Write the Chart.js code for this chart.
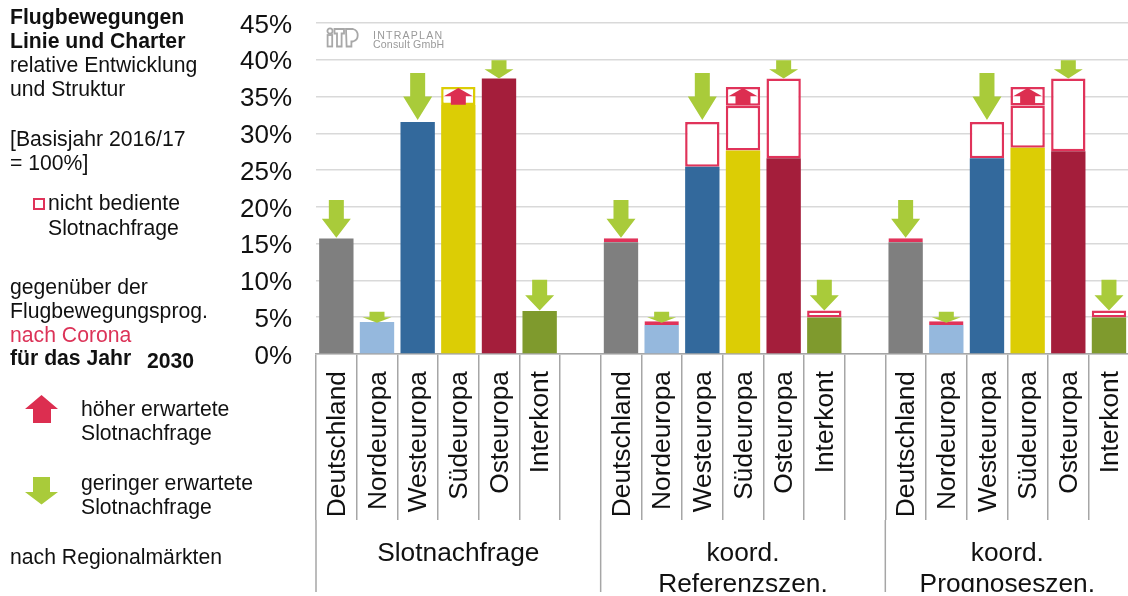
<!DOCTYPE html>
<html lang="de">
<head>
<meta charset="utf-8">
<title>Flugbewegungen nach Regionalmärkten</title>
<script src="https://cdn.jsdelivr.net/npm/chart.js@4"></script>
<style>
  html, body { margin: 0; background: #fff; overflow: hidden; }
  #wrap { position: relative; width: 1128px; height: 592px; overflow: hidden; font-family: "Liberation Sans", Arial, sans-serif; color: #111; }
  canvas { position: absolute; left: 0; top: 0; }
  .t { position: absolute; font-size: 21.2px; line-height: 24px; white-space: nowrap; }
  .b { font-weight: bold; }
  .red { color: #dc3358; }
  .box { position: absolute; left: 33px; top: 198px; width: 8px; height: 8px; border: 2px solid #e0335a; }
  svg { position: absolute; }
  .logo { position: absolute; left: 373px; color: #9a9a9a; font-size: 10.6px; line-height: 10px; white-space: nowrap; }
</style>
</head>
<body>
<div id="wrap">
  <canvas id="chart" width="1136" height="592"></canvas>

  <div class="t b" style="left:10px;top:5px">Flugbewegungen</div>
  <div class="t b" style="left:10px;top:29px">Linie und Charter</div>
  <div class="t" style="left:10px;top:53px">relative Entwicklung</div>
  <div class="t" style="left:10px;top:77px">und Struktur</div>
  <div class="t" style="left:10px;top:127px">[Basisjahr 2016/17</div>
  <div class="t" style="left:10px;top:151px">= 100%]</div>

  <div class="box"></div>
  <div class="t" style="left:48px;top:191px">nicht bediente</div>
  <div class="t" style="left:48px;top:216px">Slotnachfrage</div>

  <div class="t" style="left:10px;top:275px">gegenüber der</div>
  <div class="t" style="left:10px;top:299px">Flugbewegungsprog.</div>
  <div class="t red" style="left:10px;top:323px">nach Corona</div>
  <div class="t b" style="left:10px;top:346px">für das Jahr</div>
  <div class="t b" style="left:147px;top:349px">2030</div>

  <svg style="left:24px;top:394px" width="38" height="30"><path d="M1 15 L17.5 1 L34 15 L27 15 L27 29 L9 29 L9 15 Z" fill="#dc2e50"/></svg>
  <div class="t" style="left:81px;top:397px">höher erwartete</div>
  <div class="t" style="left:81px;top:421px">Slotnachfrage</div>

  <svg style="left:24px;top:476px" width="38" height="30"><path d="M9 1 L26 1 L26 16 L34 16 L17.5 28.5 L1 16 L9 16 Z" fill="#a9cb3a"/></svg>
  <div class="t" style="left:81px;top:471px">geringer erwartete</div>
  <div class="t" style="left:81px;top:495px">Slotnachfrage</div>

  <div class="t" style="left:10px;top:545px">nach Regionalmärkten</div>

  <svg style="left:326px;top:27px" width="36" height="21" fill="none" stroke="#a8a8a8" stroke-width="1.8">
    <circle cx="4" cy="4" r="2.6"/>
    <rect x="1.6" y="8" width="4.6" height="11.5"/>
    <path d="M8.5 2 H18 V6.5 H15.6 V19.5 H11 V6.5 H8.5 Z"/>
    <path d="M20 2 H27 A6.5 6.5 0 0 1 27 14.5 H25.4 V19.5 H20.6 Z"/>
  </svg>
  <div class="logo" style="top:30px;letter-spacing:1.2px">INTRAPLAN</div>
  <div class="logo" style="top:38.5px;letter-spacing:0.15px">Consult GmbH</div>
</div>

<script>
const regions = ['Deutschland', 'Nordeuropa', 'Westeuropa', 'Südeuropa', 'Osteuropa', 'Interkont'];
const categories = [...regions, '', ...regions, '', ...regions];
const tickLabels = [0, 5, 10, 15, 20, 25, 30, 35, 40, 45];

const groupLabels = [['Slotnachfrage'], ['koord.', 'Referenzszen.'], ['koord.', 'Prognoseszen.']];
const groupStarts = [0, 7, 14];
const groupSizes = [7, 7, 6];

// served share, in percent
const served = [
  15.7, 4.35, 31.55, 33.85, 37.45, 5.85, null,
  15.2, 3.95, 25.45, 27.65, 26.6, 4.95, null,
  15.2, 3.95, 26.6, 28.05, 27.55, 4.95
];
// not served demand on top of it
const notServed = [
  null, null, null, null, null, null, null,
  0.55, 0.5, 6.1, 6.1, 10.85, 0.95, null,
  0.55, 0.5, 4.95, 5.75, 9.9, 0.95
];
// additional expected demand (Südeuropa only)
const extraDemand = [
  null, null, null, 2.45, null, null, null,
  null, null, null, 2.55, null, null, null,
  null, null, null, 2.5, null, null
];

// arrows: start and tip in percent, pointing up where tip > start
const arrowStart = [
  20.95, 5.75, 38.2, 33.9, 39.95, 10.1, null,
  20.95, 5.75, 38.2, 33.9, 39.95, 10.1, null,
  20.95, 5.75, 38.2, 33.9, 39.95, 10.1
];
const arrowTip = [
  15.8, 4.25, 31.8, 36.15, 37.45, 5.9, null,
  15.8, 4.25, 31.8, 36.15, 37.45, 5.9, null,
  15.8, 4.25, 31.8, 36.15, 37.45, 5.9
];

const regionColors = ['#7f7f7f', '#95b8dd', '#33699c', '#dccd05', '#a41e3b', '#7f9a2d', '#fff'];
const red = '#e0335a';
const fontFamily = '"Liberation Sans", Arial, sans-serif';

const arrowsPlugin = {
  id: 'arrows',
  afterDatasetsDraw(chart) {
    const { ctx, scales: { x, y } } = chart;
    const headW = 14.5, shaftW = 7.5;
    arrowTip.forEach((tip, i) => {
      if (tip == null) return;
      const cx = x.getPixelForValue(i);
      const y0 = y.getPixelForValue(arrowStart[i]);
      const y1 = y.getPixelForValue(tip);
      const neck = (y0 + y1) / 2; // head takes half the length
      ctx.fillStyle = tip > arrowStart[i] ? '#dc2e50' : '#a9cb3a';
      ctx.beginPath();
      ctx.moveTo(cx - shaftW, y0);
      ctx.lineTo(cx + shaftW, y0);
      ctx.lineTo(cx + shaftW, neck);
      ctx.lineTo(cx + headW, neck);
      ctx.lineTo(cx, y1);
      ctx.lineTo(cx - headW, neck);
      ctx.lineTo(cx - shaftW, neck);
      ctx.closePath();
      ctx.fill();
    });
  }
};

// second level of the category axis: long separators and the scenario names
const groupAxisPlugin = {
  id: 'groupAxis',
  afterDraw(chart) {
    const { ctx, scales: { x } } = chart;
    const step = x.getPixelForValue(1) - x.getPixelForValue(0);
    ctx.save();
    ctx.strokeStyle = '#a6a6a6';
    ctx.lineWidth = 1.5;
    ctx.fillStyle = '#111';
    ctx.font = '26.3px ' + fontFamily;
    ctx.textAlign = 'center';
    ctx.textBaseline = 'alphabetic';
    groupLabels.forEach((lines, g) => {
      const left = x.getPixelForValue(groupStarts[g]) - step / 2;
      ctx.beginPath();
      ctx.moveTo(left, 520);
      ctx.lineTo(left, 592);
      ctx.stroke();
      const mid = left + step * groupSizes[g] / 2;
      lines.forEach((line, n) => ctx.fillText(line, mid, 560.5 + n * 31));
    });
    ctx.restore();
  }
};

new Chart(document.getElementById('chart'), {
  type: 'bar',
  data: {
    labels: categories,
    datasets: [
      {
        data: served,
        backgroundColor: categories.map((c, i) => regionColors[i % 7]),
        borderWidth: 0
      },
      {
        data: notServed,
        backgroundColor: '#fff',
        borderColor: red,
        borderWidth: 2.5,
        borderSkipped: false
      },
      {
        data: extraDemand,
        backgroundColor: '#fff',
        borderColor: categories.map((c, i) => (i < 7 ? regionColors[3] : red)),
        borderWidth: 2.5,
        borderSkipped: false
      }
    ]
  },
  options: {
    responsive: false,
    animation: false,
    barPercentage: 0.845,
    categoryPercentage: 1,
    layout: { padding: { top: 23, right: 6.7, bottom: 0, left: 0 } },
    plugins: { legend: { display: false }, tooltip: { enabled: false } },
    scales: {
      x: {
        stacked: true,
        afterFit(scale) { scale.height = 238; scale.paddingTop = 0; },
        border: { color: '#a6a6a6', width: 1.5 },
        grid: { drawOnChartArea: false, color: '#a6a6a6', lineWidth: 1.5, tickLength: 166 },
        ticks: {
          autoSkip: false,
          minRotation: 90,
          maxRotation: 90,
          padding: -149,
          labelOffset: 1.5,
          color: '#111',
          font: { family: fontFamily, size: 26.3 }
        }
      },
      y: {
        stacked: true,
        min: 0,
        max: 45,
        afterFit(scale) { scale.width = 316; scale.paddingTop = 0; scale.paddingBottom = 0; },
        afterBuildTicks(scale) { scale.ticks = tickLabels.map(value => ({ value })); },
        border: { display: false },
        grid: { color: '#d9d9d9', lineWidth: 1.5, drawTicks: false },
        ticks: {
          padding: 24,
          labelOffset: 2.5,
          color: '#111',
          font: { family: fontFamily, size: 26 },
          callback: v => v + '%'
        }
      }
    }
  },
  plugins: [arrowsPlugin, groupAxisPlugin]
});
</script>
</body>
</html>
